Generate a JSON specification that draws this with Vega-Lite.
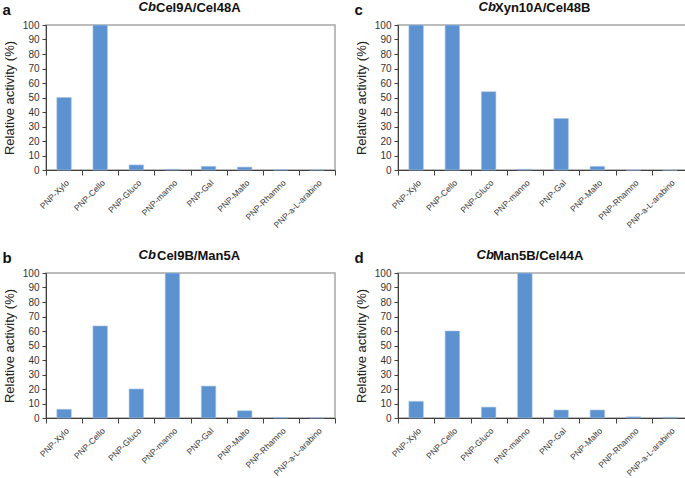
{
  "$schema": "https://vega.github.io/schema/vega-lite/v6.json",
  "background": "white",
  "padding": {"left": 2, "top": 1, "right": 2, "bottom": 0},
  "datasets": {
    "act": [
      {"panel": "a", "substrate": "PNP-Xylo", "activity": 50},
      {"panel": "a", "substrate": "PNP-Cello", "activity": 100},
      {"panel": "a", "substrate": "PNP-Gluco", "activity": 3.5},
      {"panel": "a", "substrate": "PNP-manno", "activity": 0.5},
      {"panel": "a", "substrate": "PNP-Gal", "activity": 2.5},
      {"panel": "a", "substrate": "PNP-Malto", "activity": 2},
      {"panel": "a", "substrate": "PNP-Rhamno", "activity": 0.2},
      {"panel": "a", "substrate": "PNP-a-L-arabino", "activity": 0.2},
      {"panel": "c", "substrate": "PNP-Xylo", "activity": 100},
      {"panel": "c", "substrate": "PNP-Cello", "activity": 100},
      {"panel": "c", "substrate": "PNP-Gluco", "activity": 54},
      {"panel": "c", "substrate": "PNP-manno", "activity": 0.5},
      {"panel": "c", "substrate": "PNP-Gal", "activity": 35.5},
      {"panel": "c", "substrate": "PNP-Malto", "activity": 2.5},
      {"panel": "c", "substrate": "PNP-Rhamno", "activity": 0},
      {"panel": "c", "substrate": "PNP-a-L-arabino", "activity": 0},
      {"panel": "b", "substrate": "PNP-Xylo", "activity": 6},
      {"panel": "b", "substrate": "PNP-Cello", "activity": 63.5},
      {"panel": "b", "substrate": "PNP-Gluco", "activity": 20},
      {"panel": "b", "substrate": "PNP-manno", "activity": 100},
      {"panel": "b", "substrate": "PNP-Gal", "activity": 22},
      {"panel": "b", "substrate": "PNP-Malto", "activity": 5},
      {"panel": "b", "substrate": "PNP-Rhamno", "activity": 0.3},
      {"panel": "b", "substrate": "PNP-a-L-arabino", "activity": 0.3},
      {"panel": "d", "substrate": "PNP-Xylo", "activity": 11.5},
      {"panel": "d", "substrate": "PNP-Cello", "activity": 60},
      {"panel": "d", "substrate": "PNP-Gluco", "activity": 7.5},
      {"panel": "d", "substrate": "PNP-manno", "activity": 100},
      {"panel": "d", "substrate": "PNP-Gal", "activity": 5.5},
      {"panel": "d", "substrate": "PNP-Malto", "activity": 5.5},
      {"panel": "d", "substrate": "PNP-Rhamno", "activity": 0.8},
      {"panel": "d", "substrate": "PNP-a-L-arabino", "activity": 0.5}
    ]
  },
  "config": {
    "font": "Liberation Sans",
    "view": {"stroke": "#a6a6a6", "strokeWidth": 1.5},
    "axis": {"grid": false, "domainColor": "#404040", "tickColor": "#404040", "labelColor": "#333333", "titleColor": "#222222", "labelFont": "Liberation Sans", "titleFont": "Liberation Sans"},
    "axisX": {"labelAngle": -45, "labelFontSize": 8.5, "tickBand": "extent", "tickSize": 5, "labelPadding": 3},
    "axisY": {"labelFontSize": 10, "tickSize": 4, "titleFontSize": 13, "titleFontWeight": "normal", "labelPadding": 3, "titlePadding": 6},
    "bar": {"color": "#5b92cf", "stroke": "#a9c4e6", "strokeWidth": 0.6},
    "title": {"fontSize": 13, "fontWeight": "bold", "color": "#111111", "offset": 5, "font": "Liberation Sans", "anchor": "start"}
  },
  "spacing": 19,
  "vconcat": [
    {
      "spacing": 17,
      "hconcat": [
        {
          "title": {"text": "a", "frame": "bounds", "fontSize": 15, "dy": 17, "offset": 0},
          "vconcat": [{
            "title": {"text": "Cb", "fontStyle": "italic", "frame": "bounds", "dx": 136, "dy": 13, "offset": 0},
            "vconcat": [{
              "width": 289, "height": 145,
              "title": {"text": "Cel9A/Cel48A", "frame": "group", "dx": 110},
              "data": {"name": "act"},
              "transform": [{"filter": "datum.panel === 'a'"}],
              "mark": {"type": "bar", "width": {"band": 0.4}},
              "encoding": {
                "x": {"field": "substrate", "type": "nominal", "sort": null, "scale": {"paddingInner": 0, "paddingOuter": 0}, "axis": {"title": null}},
                "y": {"field": "activity", "type": "quantitative", "scale": {"domain": [0, 100]}, "axis": {"values": [0,10,20,30,40,50,60,70,80,90,100], "title": "Relative activity (%)"}}
              }
            }]
          }]
        },
        {
          "title": {"text": "c", "frame": "bounds", "fontSize": 15, "dy": 17, "offset": 0},
          "vconcat": [{
            "title": {"text": "Cb", "fontStyle": "italic", "frame": "bounds", "dx": 124, "dy": 13, "offset": 0},
            "vconcat": [{
              "width": 290, "height": 145,
              "title": {"text": "Xyn10A/Cel48B", "frame": "group", "dx": 97},
              "data": {"name": "act"},
              "transform": [{"filter": "datum.panel === 'c'"}],
              "mark": {"type": "bar", "width": {"band": 0.4}},
              "encoding": {
                "x": {"field": "substrate", "type": "nominal", "sort": null, "scale": {"paddingInner": 0, "paddingOuter": 0}, "axis": {"title": null}},
                "y": {"field": "activity", "type": "quantitative", "scale": {"domain": [0, 100]}, "axis": {"values": [0,10,20,30,40,50,60,70,80,90,100], "title": "Relative activity (%)"}}
              }
            }]
          }]
        }
      ]
    },
    {
      "spacing": 17,
      "hconcat": [
        {
          "title": {"text": "b", "frame": "bounds", "fontSize": 15, "dy": 17, "offset": 0},
          "vconcat": [{
            "title": {"text": "Cb", "fontStyle": "italic", "frame": "bounds", "dx": 136, "dy": 13, "offset": 0},
            "vconcat": [{
              "width": 289, "height": 145,
              "title": {"text": "Cel9B/Man5A", "frame": "group", "dx": 111},
              "data": {"name": "act"},
              "transform": [{"filter": "datum.panel === 'b'"}],
              "mark": {"type": "bar", "width": {"band": 0.4}},
              "encoding": {
                "x": {"field": "substrate", "type": "nominal", "sort": null, "scale": {"paddingInner": 0, "paddingOuter": 0}, "axis": {"title": null}},
                "y": {"field": "activity", "type": "quantitative", "scale": {"domain": [0, 100]}, "axis": {"values": [0,10,20,30,40,50,60,70,80,90,100], "title": "Relative activity (%)"}}
              }
            }]
          }]
        },
        {
          "title": {"text": "d", "frame": "bounds", "fontSize": 15, "dy": 17, "offset": 0},
          "vconcat": [{
            "title": {"text": "Cb", "fontStyle": "italic", "frame": "bounds", "dx": 122, "dy": 13, "offset": 0},
            "vconcat": [{
              "width": 290, "height": 145,
              "title": {"text": "Man5B/Cel44A", "frame": "group", "dx": 95},
              "data": {"name": "act"},
              "transform": [{"filter": "datum.panel === 'd'"}],
              "mark": {"type": "bar", "width": {"band": 0.4}},
              "encoding": {
                "x": {"field": "substrate", "type": "nominal", "sort": null, "scale": {"paddingInner": 0, "paddingOuter": 0}, "axis": {"title": null}},
                "y": {"field": "activity", "type": "quantitative", "scale": {"domain": [0, 100]}, "axis": {"values": [0,10,20,30,40,50,60,70,80,90,100], "title": "Relative activity (%)"}}
              }
            }]
          }]
        }
      ]
    }
  ]
}
